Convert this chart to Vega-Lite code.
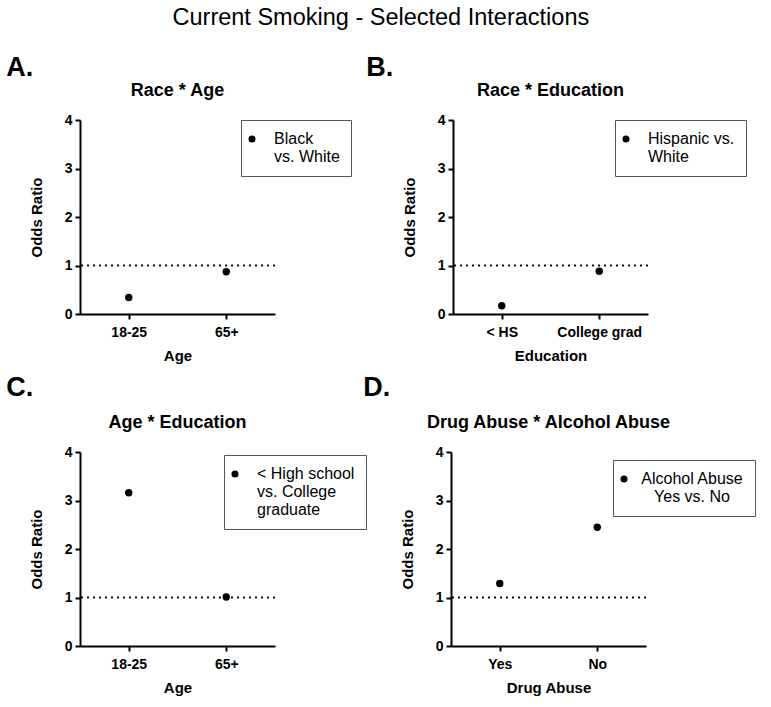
{
  "$schema": "https://vega.github.io/schema/vega-lite/v6.json",
  "background": "white",
  "padding": {"left": 6, "top": 5, "right": 2, "bottom": 2},
  "title": {"text": "Current Smoking - Selected Interactions", "fontSize": 23.5, "fontWeight": "normal", "font": "Liberation Sans", "color": "black", "anchor": "middle", "offset": 25},
  "resolve": {"scale": {"color": "independent"}, "legend": {"color": "independent"}},
  "config": {
    "font": "Liberation Sans",
    "view": {"stroke": null},
    "axis": {"domainColor": "black", "domainWidth": 2, "tickColor": "black", "tickWidth": 2, "tickSize": 5, "labelColor": "black", "labelFontWeight": "bold", "labelFontSize": 14, "titleFontSize": 15, "titleFontWeight": "bold", "titleColor": "black", "grid": false, "labelPadding": 3},
    "axisX": {"labelAngle": 0, "titlePadding": 9, "labelPadding": 6},
    "axisY": {"titlePadding": 20, "values": [0, 1, 2, 3, 4]},
    "legend": {"orient": "none", "title": null, "strokeColor": "#555", "fillColor": "white", "padding": 11, "labelFontSize": 16, "labelColor": "black", "labelLimit": 300, "labelOffset": 14, "symbolOffset": -8, "symbolType": "circle", "symbolFillColor": "black", "symbolStrokeColor": "black", "symbolSize": 50, "symbolStrokeWidth": 0},
    "title": {"color": "black"}
  },
  "vconcat": [
    {
      "resolve": {"scale": {"color": "independent"}, "legend": {"color": "independent"}},
      "spacing": 14,
      "hconcat": [
        {
          "title": {"text": "A.", "anchor": "start", "fontSize": 27, "fontWeight": "bold", "dx": -23, "offset": 0},
          "vconcat": [
            {
              "title": {"text": "Race * Age", "fontSize": 18, "fontWeight": "bold", "anchor": "middle", "offset": 13},
              "width": 195, "height": 194,
              "data": {"values": [
                {"group": "18-25", "or": 0.34, "series": "Black|vs. White"},
                {"group": "65+", "or": 0.87, "series": "Black|vs. White"}
              ]},
              "layer": [
                {"mark": {"type": "rule", "strokeDash": [2, 4], "strokeWidth": 1.5, "color": "black"}, "encoding": {"y": {"datum": 1}}},
                {"mark": {"type": "point", "filled": true, "size": 55, "opacity": 1},
                 "encoding": {
                   "x": {"field": "group", "type": "ordinal", "sort": ["18-25", "65+"], "scale": {"type": "point", "padding": 0.5}, "title": "Age"},
                   "y": {"field": "or", "type": "quantitative", "scale": {"domain": [0, 4]}, "title": "Odds Ratio"},
                   "color": {"field": "series", "type": "nominal", "scale": {"range": ["black"]}, "legend": {"legendX": 161, "legendY": 0, "labelExpr": "split(datum.label, '|')"}}
                 }}
              ]
            }
          ]
        },
        {
          "title": {"text": "B.", "anchor": "start", "fontSize": 27, "fontWeight": "bold", "dx": -36, "offset": 0},
          "vconcat": [
            {
              "title": {"text": "Race * Education", "fontSize": 18, "fontWeight": "bold", "anchor": "middle", "offset": 13},
              "width": 195, "height": 194,
              "data": {"values": [
                {"group": "< HS", "or": 0.17, "series": "Hispanic vs.|White"},
                {"group": "College grad", "or": 0.88, "series": "Hispanic vs.|White"}
              ]},
              "layer": [
                {"mark": {"type": "rule", "strokeDash": [2, 4], "strokeWidth": 1.5, "color": "black"}, "encoding": {"y": {"datum": 1}}},
                {"mark": {"type": "point", "filled": true, "size": 55, "opacity": 1},
                 "encoding": {
                   "x": {"field": "group", "type": "ordinal", "sort": ["< HS", "College grad"], "scale": {"type": "point", "padding": 0.5}, "title": "Education"},
                   "y": {"field": "or", "type": "quantitative", "scale": {"domain": [0, 4]}, "title": "Odds Ratio"},
                   "color": {"field": "series", "type": "nominal", "scale": {"range": ["black"]}, "legend": {"legendX": 162, "legendY": 0, "labelExpr": "split(datum.label, '|')"}}
                 }}
              ]
            }
          ]
        }
      ]
    },
    {
      "resolve": {"scale": {"color": "independent"}, "legend": {"color": "independent"}},
      "spacing": -4,
      "hconcat": [
        {
          "title": {"text": "C.", "anchor": "start", "fontSize": 27, "fontWeight": "bold", "dx": -23, "offset": 12},
          "vconcat": [
            {
              "title": {"text": "Age * Education", "fontSize": 18, "fontWeight": "bold", "anchor": "middle", "offset": 13},
              "width": 195, "height": 194,
              "data": {"values": [
                {"group": "18-25", "or": 3.16, "series": "< High school|vs. College|graduate"},
                {"group": "65+", "or": 1.01, "series": "< High school|vs. College|graduate"}
              ]},
              "layer": [
                {"mark": {"type": "rule", "strokeDash": [2, 4], "strokeWidth": 1.5, "color": "black"}, "encoding": {"y": {"datum": 1}}},
                {"mark": {"type": "point", "filled": true, "size": 55, "opacity": 1},
                 "encoding": {
                   "x": {"field": "group", "type": "ordinal", "sort": ["18-25", "65+"], "scale": {"type": "point", "padding": 0.5}, "title": "Age"},
                   "y": {"field": "or", "type": "quantitative", "scale": {"domain": [0, 4]}, "title": "Odds Ratio"},
                   "color": {"field": "series", "type": "nominal", "scale": {"range": ["black"]}, "legend": {"legendX": 144, "legendY": 3, "labelExpr": "split(datum.label, '|')"}}
                 }}
              ]
            }
          ]
        },
        {
          "title": {"text": "D.", "anchor": "start", "fontSize": 27, "fontWeight": "bold", "dx": -37, "offset": 12},
          "vconcat": [
            {
              "title": {"text": "Drug Abuse * Alcohol Abuse", "fontSize": 18, "fontWeight": "bold", "anchor": "middle", "offset": 13},
              "width": 195, "height": 194,
              "data": {"values": [
                {"group": "Yes", "or": 1.29, "series": "Alcohol Abuse|Yes vs. No"},
                {"group": "No", "or": 2.45, "series": "Alcohol Abuse|Yes vs. No"}
              ]},
              "layer": [
                {"mark": {"type": "rule", "strokeDash": [2, 4], "strokeWidth": 1.5, "color": "black"}, "encoding": {"y": {"datum": 1}}},
                {"mark": {"type": "point", "filled": true, "size": 55, "opacity": 1},
                 "encoding": {
                   "x": {"field": "group", "type": "ordinal", "sort": ["Yes", "No"], "scale": {"type": "point", "padding": 0.5}, "title": "Drug Abuse"},
                   "y": {"field": "or", "type": "quantitative", "scale": {"domain": [0, 4]}, "title": "Odds Ratio"},
                   "color": {"field": "series", "type": "nominal", "scale": {"range": ["black"]}, "legend": {"legendX": 162, "legendY": 8, "labelAlign": "center", "labelOffset": 60, "labelExpr": "split(datum.label, '|')"}}
                 }}
              ]
            }
          ]
        }
      ]
    }
  ],
  "spacing": 11
}
